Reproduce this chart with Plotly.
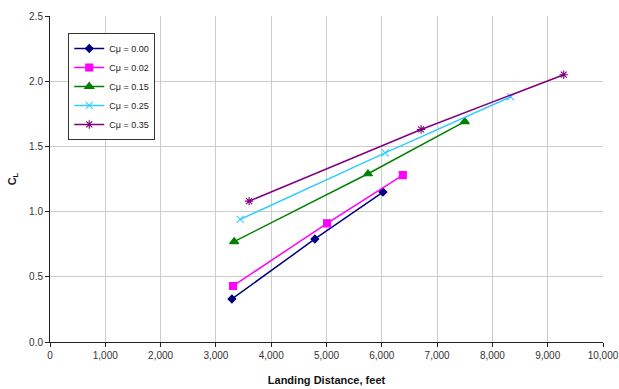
import plotly.graph_objects as go

# Landing distance (feet) vs lift coefficient for each blowing coefficient
series_names = ["Cμ = 0.00", "Cμ = 0.02", "Cμ = 0.15", "Cμ = 0.25", "Cμ = 0.35"]
dist_000 = [3290, 4790, 6020]
cl_000 = [0.33, 0.79, 1.15]
dist_002 = [3310, 5010, 6380]
cl_002 = [0.43, 0.91, 1.28]
dist_015 = [3330, 5750, 7500]
cl_015 = [0.77, 1.29, 1.69]
dist_025 = [3440, 6060, 8330]
cl_025 = [0.94, 1.45, 1.88]
dist_035 = [3600, 6710, 9290]
cl_035 = [1.08, 1.63, 2.05]

x_ticks = list(range(0, 10001, 1000))
x_tick_text = [f"{v:,}" for v in x_ticks]
y_ticks = [0.0, 0.5, 1.0, 1.5, 2.0, 2.5]
y_tick_text = [f"{v:.1f}" for v in y_ticks]

xs = [dist_000, dist_002, dist_015, dist_025, dist_035]
ys = [cl_000, cl_002, cl_015, cl_025, cl_035]
colors = ["#000080", "#FF00FF", "#008000", "#33CCFF", "#800080"]
symbols = ["diamond", "square", "triangle-up", "x-thin-open", "asterisk-open"]
sizes = [6, 7, 8, 7, 7]

fig = go.Figure()
for name, x, y, c, s, sz in zip(series_names, xs, ys, colors, symbols, sizes):
    fig.add_trace(go.Scatter(
        x=x, y=y, name=name, mode="lines+markers",
        line=dict(color=c, width=1.5),
        marker=dict(symbol=s, size=sz, color=c, line=dict(color=c, width=1.1)),
    ))

font = "Liberation Sans, Arial, sans-serif"
fig.update_layout(
    width=619, height=389,
    margin=dict(l=50, r=16, t=16, b=47),
    paper_bgcolor="white", plot_bgcolor="white",
    font=dict(family=font, size=10, color="#333333"),
    showlegend=True,
    legend=dict(
        x=0.033, y=0.948, xanchor="left", yanchor="top",
        bordercolor="#333333", borderwidth=1, bgcolor="white",
        font=dict(size=9, color="#222222"),
        itemwidth=30, tracegroupgap=0,
    ),
    xaxis=dict(
        range=[0, 10000], tickvals=x_ticks, ticktext=x_tick_text,
        showgrid=True, gridcolor="#CCCCCC", gridwidth=1,
        showline=True, linecolor="#222222", linewidth=1,
        ticks="outside", ticklen=4, tickcolor="#222222",
        zeroline=False, automargin=False,
        title=dict(text="<b>Landing Distance, feet</b>", font=dict(size=11, color="#111111"), standoff=16),
    ),
    yaxis=dict(
        range=[0, 2.5], tickvals=y_ticks, ticktext=y_tick_text,
        showgrid=True, gridcolor="#CCCCCC", gridwidth=1,
        showline=True, linecolor="#222222", linewidth=1,
        ticks="outside", ticklen=4, tickcolor="#222222",
        zeroline=False, automargin=False,
        title=dict(text="<b>C<sub>L</sub></b>", font=dict(size=11, color="#111111"), standoff=10),
    ),
)

fig.write_html("out.html")
